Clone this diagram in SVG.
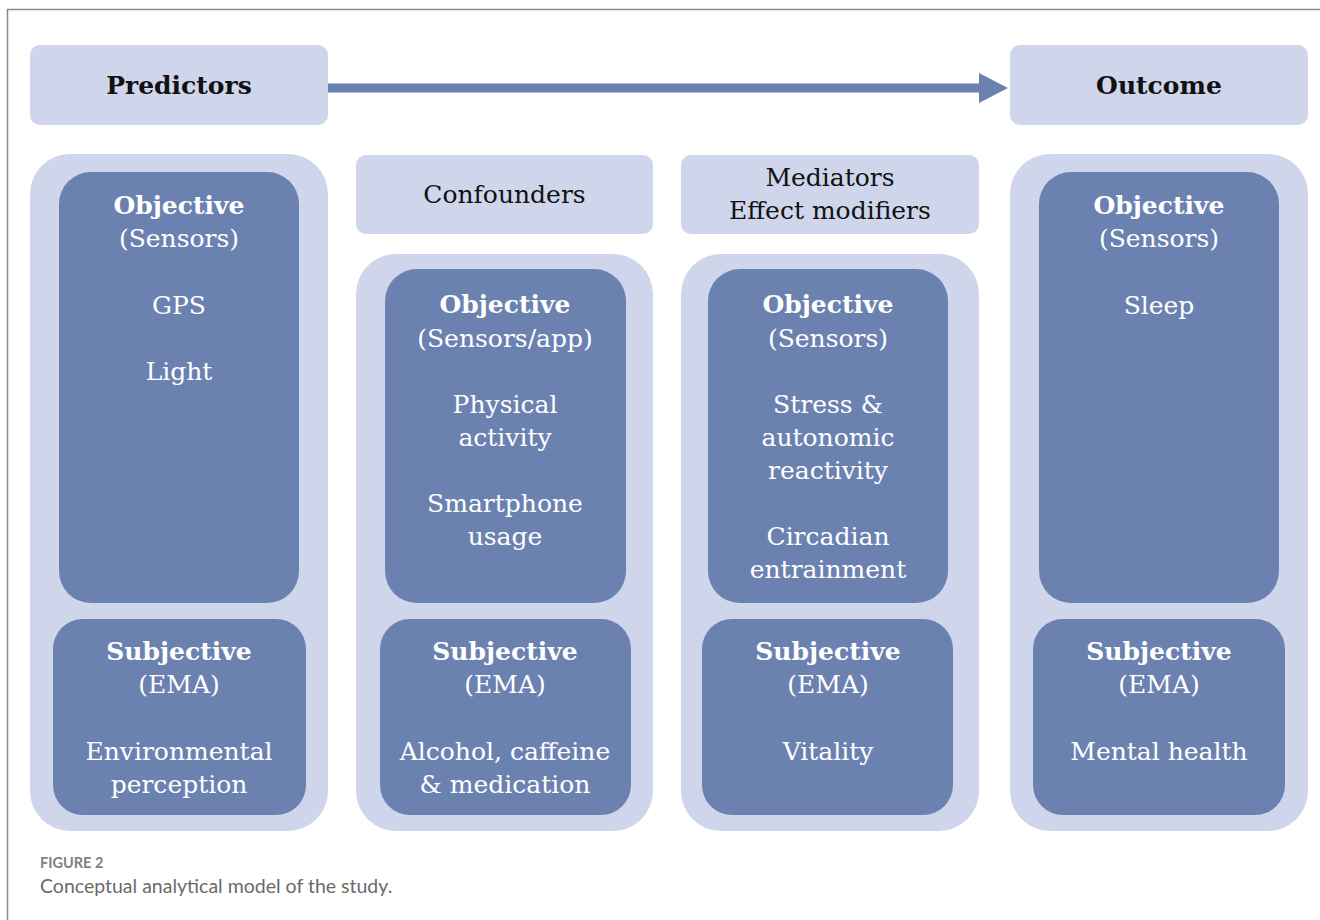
<svg xmlns="http://www.w3.org/2000/svg" width="1320" height="920" viewBox="0 0 1320 920">
<style>
.hdr{fill:#CFD5EA}
.outer{fill:#CFD5EA}
.inner{fill:#6B82B1}
.ht{font-family:"DejaVu Serif","Liberation Serif",serif;font-size:25px;fill:#111;text-anchor:middle}
.hb{font-weight:bold}
.t{font-family:"DejaVu Serif","Liberation Serif",serif;font-size:25px;fill:#fff;text-anchor:middle}
.b{font-weight:bold}
.cap1{font-family:Lato,"Open Sans",sans-serif;font-size:14.5px;font-weight:bold;fill:#808080}
.cap2{font-family:Lato,"Open Sans",sans-serif;font-size:19.5px;fill:#6a6a6a}
</style>
<rect x="0" y="0" width="1320" height="920" fill="#fff"/>
<rect x="7.5" y="9.5" width="1330" height="930" fill="none" stroke="#8a8a8a" stroke-width="1.5"/>

<g id="connectors">
<line x1="328" y1="88" x2="982" y2="88" stroke="#6B82B1" stroke-width="9"/>
<polygon points="979,73 1008,88 979,103" fill="#6B82B1"/>
</g>

<g id="predictors">
<rect class="hdr" x="30" y="45" width="298" height="80" rx="10"/>
<text class="ht hb" x="179" y="94">Predictors</text>
</g>
<g id="outcome">
<rect class="hdr" x="1010" y="45" width="298" height="80" rx="10"/>
<text class="ht hb" x="1159" y="94">Outcome</text>
</g>
<g id="confounders">
<rect class="hdr" x="356" y="155" width="297" height="79" rx="10"/>
<text class="ht" x="504.5" y="203">Confounders</text>
</g>
<g id="mediators">
<rect class="hdr" x="681" y="155" width="298" height="79" rx="10"/>
<text class="ht" x="830" y="186">Mediators</text>
<text class="ht" x="830" y="219">Effect modifiers</text>
</g>

<g id="col-predictors">
<rect class="outer" x="30" y="154" width="298" height="677" rx="40"/>
<rect class="inner" x="59" y="172" width="240" height="431" rx="32"/>
<text class="t b" x="179" y="214">Objective</text>
<text class="t" x="179" y="247">(Sensors)</text>
<text class="t" x="179" y="314">GPS</text>
<text class="t" x="179" y="380">Light</text>
<rect class="inner" x="53" y="619" width="253" height="196" rx="30"/>
<text class="t b" x="179" y="660">Subjective</text>
<text class="t" x="179" y="693">(EMA)</text>
<text class="t" x="179" y="760">Environmental</text>
<text class="t" x="179" y="793">perception</text>
</g>

<g id="col-confounders">
<rect class="outer" x="356" y="254" width="297" height="577" rx="40"/>
<rect class="inner" x="385" y="269" width="241" height="334" rx="32"/>
<text class="t b" x="505" y="313">Objective</text>
<text class="t" x="505" y="347">(Sensors/app)</text>
<text class="t" x="505" y="413">Physical</text>
<text class="t" x="505" y="446">activity</text>
<text class="t" x="505" y="512">Smartphone</text>
<text class="t" x="505" y="545">usage</text>
<rect class="inner" x="380" y="619" width="251" height="196" rx="30"/>
<text class="t b" x="505" y="660">Subjective</text>
<text class="t" x="505" y="693">(EMA)</text>
<text class="t" x="505" y="760">Alcohol, caffeine</text>
<text class="t" x="505" y="793">&amp; medication</text>
</g>

<g id="col-mediators">
<rect class="outer" x="681" y="254" width="298" height="577" rx="40"/>
<rect class="inner" x="708" y="269" width="240" height="334" rx="32"/>
<text class="t b" x="828" y="313">Objective</text>
<text class="t" x="828" y="347">(Sensors)</text>
<text class="t" x="828" y="413">Stress &amp;</text>
<text class="t" x="828" y="446">autonomic</text>
<text class="t" x="828" y="479">reactivity</text>
<text class="t" x="828" y="545">Circadian</text>
<text class="t" x="828" y="578">entrainment</text>
<rect class="inner" x="702" y="619" width="251" height="196" rx="30"/>
<text class="t b" x="828" y="660">Subjective</text>
<text class="t" x="828" y="693">(EMA)</text>
<text class="t" x="828" y="760">Vitality</text>
</g>

<g id="col-outcome">
<rect class="outer" x="1010" y="154" width="298" height="677" rx="40"/>
<rect class="inner" x="1039" y="172" width="240" height="431" rx="32"/>
<text class="t b" x="1159" y="214">Objective</text>
<text class="t" x="1159" y="247">(Sensors)</text>
<text class="t" x="1159" y="314">Sleep</text>
<rect class="inner" x="1033" y="619" width="252" height="196" rx="30"/>
<text class="t b" x="1159" y="660">Subjective</text>
<text class="t" x="1159" y="693">(EMA)</text>
<text class="t" x="1159" y="760">Mental health</text>
</g>

<g id="caption">
<text class="cap1" x="40" y="868">FIGURE 2</text>
<text class="cap2" x="40" y="893">Conceptual analytical model of the study.</text>
</g>
</svg>
